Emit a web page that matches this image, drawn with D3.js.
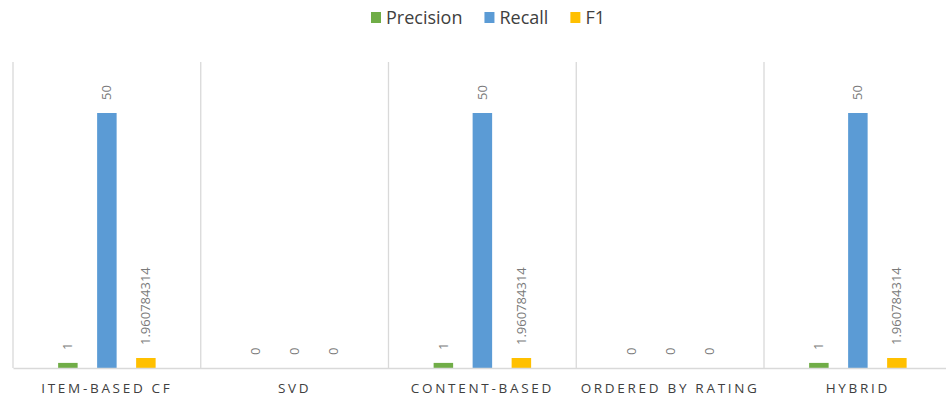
<!DOCTYPE html>
<html><head><meta charset="utf-8">
<script src="https://d3js.org/d3.v7.min.js"></script>
<style>
html,body{margin:0;padding:0;background:#fff;}
svg{display:block;}
</style></head>
<body><svg id="chart" width="946" height="398"></svg>
<script>
const categories = ["ITEM-BASED CF", "SVD", "CONTENT-BASED", "ORDERED BY RATING", "HYBRID"];
const seriesNames = ["Precision", "Recall", "F1"];
const precision = [1, 0, 1, 0, 1];
const recall = [50, 0, 50, 0, 50];
const f1 = [1.960784314, 0, 1.960784314, 0, 1.960784314];
const labelText = {
  Precision: ["1", "0", "1", "0", "1"],
  Recall: ["50", "0", "50", "0", "50"],
  F1: ["1.960784314", "0", "1.960784314", "0", "1.960784314"]
};
const colors = {Precision: "#70AD47", Recall: "#5B9BD5", F1: "#FFC000"};
const yDomain = [0, 60];

const values = {Precision: precision, Recall: recall, F1: f1};
const rows = categories.map((c, i) => ({cat: c, i}));

const svg = d3.select("#chart");
const plotLeft = 13, plotRight = 951.75, plotTop = 62, plotBottom = 368;

const x = d3.scaleBand().domain(categories).range([plotLeft, plotRight]).padding(0);
const xi = d3.scaleBand().domain(seriesNames).range([0, x.bandwidth()])
  .paddingInner(0.5).paddingOuter(1.157);
const y = d3.scaleLinear().domain(yDomain).range([plotBottom, plotTop]);

// vertical separators
const seps = categories.map(c => x(c)).concat([x(categories[categories.length-1]) + x.bandwidth()]);
svg.append("g").selectAll("line").data(seps).join("line")
  .attr("x1", d => d).attr("x2", d => d)
  .attr("y1", plotTop).attr("y2", plotBottom)
  .attr("stroke", "#d9d9d9").attr("stroke-width", 1.3);

// bars
const g = svg.append("g");
seriesNames.forEach(s => {
  g.append("g").selectAll("rect").data(rows).join("rect")
    .attr("x", d => x(d.cat) + xi(s))
    .attr("width", xi.bandwidth())
    .attr("y", d => y(values[s][d.i]))
    .attr("height", d => y(0) - y(values[s][d.i]))
    .attr("fill", colors[s]);
  g.append("g").selectAll("text").data(rows).join("text")
    .attr("transform", d => `translate(${x(d.cat) + xi(s) + xi.bandwidth()/2 + 4.5},${y(values[s][d.i]) - 13}) rotate(-90)`)
    .attr("text-anchor", "start")
    .attr("font-family", "'Open Sans', sans-serif")
    .attr("font-size", 13)
    .attr("fill", "#7a7a7a")
    .text(d => labelText[s][d.i]);
});

// x axis
const xAxis = d3.axisBottom(x).tickSize(0).tickPadding(15);
const ax = svg.append("g").attr("transform", `translate(0,${plotBottom})`).call(xAxis);
ax.select(".domain").attr("stroke", "#d9d9d9").attr("stroke-width", 1.3);
ax.selectAll("text")
  .attr("font-family", "'Open Sans', sans-serif")
  .attr("font-size", 13.5)
  .attr("letter-spacing", "2.7px")
  .attr("fill", "#404040");

// legend
const leg = svg.append("g");
let lx = 0;
seriesNames.forEach((s, k) => {
  const it = leg.append("g");
  it.append("rect").attr("x", 0).attr("y", -6).attr("width", 10).attr("height", 11).attr("fill", colors[s]);
  const t = it.append("text").attr("x", 15).attr("y", 0).attr("dy", "0.35em")
    .attr("font-family", "'Open Sans', sans-serif").attr("font-size", 18)
    .attr("fill", "#404040").text(s);
  const w = 15 + t.node().getComputedTextLength();
  it.attr("transform", `translate(${lx},18)`);
  lx += w + 22;
});
const totalW = lx - 22;
leg.attr("transform", `translate(${371},0)`);
</script>
</body></html>
